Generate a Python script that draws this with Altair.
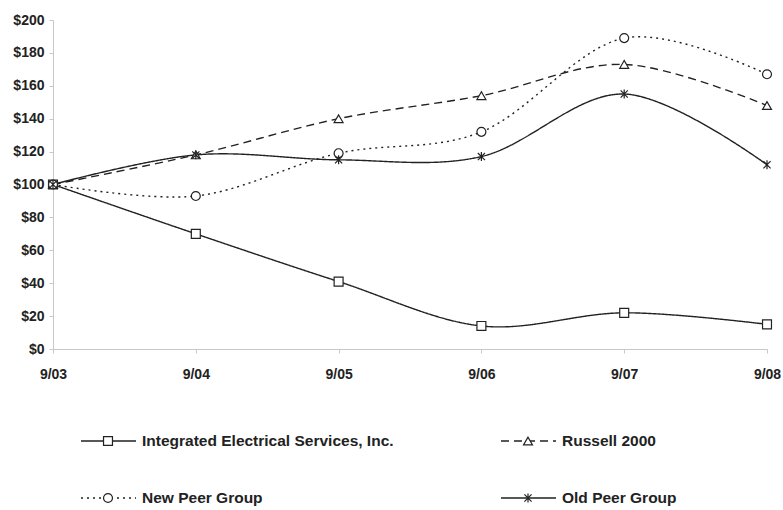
import altair as alt
import pandas as pd

periods = ["9/03", "9/04", "9/05", "9/06", "9/07", "9/08"]
series_names = [
    "Integrated Electrical Services, Inc.",
    "Russell 2000",
    "New Peer Group",
    "Old Peer Group",
]
ies = [100, 70, 41, 14, 22, 15]
russell = [100, 118, 140, 154, 173, 148]
new_peer = [100, 93, 119, 132, 189, 167]
old_peer = [100, 118, 115, 117, 155, 112]
values = [ies, russell, new_peer, old_peer]
y_ticks = [0, 20, 40, 60, 80, 100, 120, 140, 160, 180, 200]

legend_col = [0, 1, 0, 1]
legend_row = [0, 0, 1, 1]

rows = []
for name, vals in zip(series_names, values):
    for p, v in zip(periods, vals):
        rows.append({"period": p, "series": name, "value": v})
df = pd.DataFrame(rows)

leg = pd.DataFrame({"series": series_names, "col": legend_col, "row": legend_row})

INK = "#222222"
FONT = "Liberation Sans"
ASTERISK = "M0,-1V1M-0.8,-0.8L0.8,0.8M-0.8,0.8L0.8,-0.8"

dash_scale = alt.Scale(domain=series_names, range=[[1, 0], [8, 5], [2, 4], [1, 0]])
shape_scale = alt.Scale(domain=series_names, range=["square", "triangle-up", "circle", ASTERISK])

W, H = 714, 329

x_enc = alt.X(
    "period:O",
    sort=periods,
    scale=alt.Scale(type="point", padding=0),
    axis=alt.Axis(
        title=None, labelAngle=0, domainColor="#c8c8c8", tickColor="#c8c8c8",
        tickSize=4, labelPadding=14, labelFont=FONT, labelFontWeight="bold",
        labelFontSize=14, labelColor=INK, grid=False,
    ),
)
y_enc = alt.Y(
    "value:Q",
    scale=alt.Scale(domain=[0, 200], nice=False, zero=True),
    axis=alt.Axis(
        title=None, values=y_ticks, format="$,.0f", domainColor="#c8c8c8",
        tickColor="#c8c8c8", tickSize=4, labelPadding=5, labelFont=FONT,
        labelFontWeight="bold", labelFontSize=14, labelColor=INK, grid=False,
    ),
)

lines = alt.Chart(df).mark_line(
    interpolate="cardinal", color=INK, strokeWidth=1.4
).encode(
    x=x_enc,
    y=y_enc,
    detail="series:N",
    strokeDash=alt.StrokeDash("series:N", scale=dash_scale, legend=None),
)

points = alt.Chart(df).mark_point(
    filled=False, fill="white", fillOpacity=1, opacity=1, stroke=INK,
    strokeWidth=1.2, size=80,
).encode(
    x=x_enc,
    y=y_enc,
    shape=alt.Shape("series:N", scale=shape_scale, legend=None),
)

main = alt.layer(lines, points).properties(width=W, height=H)

# Manual legend laid out in two columns and two rows
LX = alt.Scale(domain=[0, W])
LY = alt.Scale(domain=[0, 1], range=[0, 57])
base = alt.Chart(leg).transform_calculate(
    x0="datum.col * 420 + 28",
    x1="datum.col * 420 + 83",
    xm="datum.col * 420 + 55",
    xt="datum.col * 420 + 89",
)
leg_rule = base.mark_rule(color=INK, strokeWidth=1.4).encode(
    x=alt.X("x0:Q", scale=LX, axis=None),
    x2="x1:Q",
    y=alt.Y("row:Q", scale=LY, axis=None),
    strokeDash=alt.StrokeDash("series:N", scale=dash_scale, legend=None),
)
leg_pt = base.mark_point(
    filled=False, fill="white", fillOpacity=1, opacity=1, stroke=INK,
    strokeWidth=1.2, size=80,
).encode(
    x=alt.X("xm:Q", scale=LX, axis=None),
    y=alt.Y("row:Q", scale=LY, axis=None),
    shape=alt.Shape("series:N", scale=shape_scale, legend=None),
)
leg_txt = base.mark_text(
    align="left", baseline="middle", font=FONT, fontWeight="bold",
    fontSize=15.5, color=INK,
).encode(
    x=alt.X("xt:Q", scale=LX, axis=None),
    y=alt.Y("row:Q", scale=LY, axis=None),
    text="series:N",
)
legend = alt.layer(leg_rule, leg_pt, leg_txt).properties(width=W, height=57)

chart = alt.vconcat(main, legend, spacing=53).properties(
    padding={"left": 12, "top": 13, "right": 0, "bottom": 0},
    background="white",
).configure_view(stroke=None)

chart.save("out.html", embed_options={"renderer": "svg", "actions": False})
